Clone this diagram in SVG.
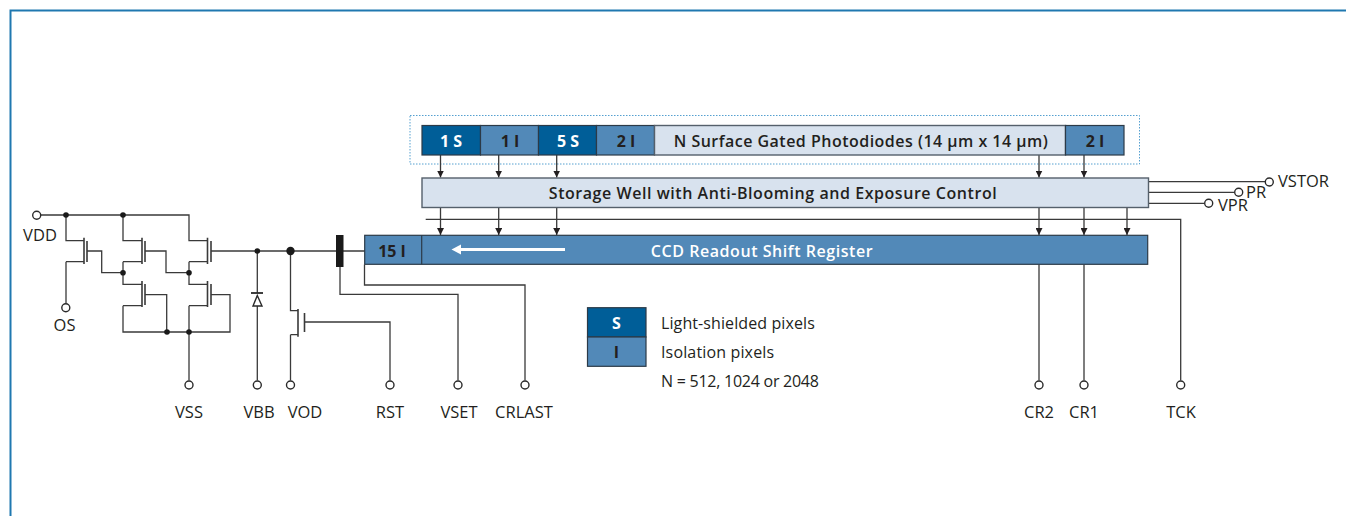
<svg xmlns="http://www.w3.org/2000/svg" width="1346" height="516" viewBox="0 0 1346 516">
<style>
text{font-family:"Open Sans","Noto Sans",sans-serif;fill:#231f20}
.l{font-size:16.5px;font-weight:500;text-anchor:middle}
.ls{font-size:16.500px;font-weight:500}
.t{font-size:16px;font-weight:500}
.c{font-size:16px;font-weight:700;text-anchor:middle}
.m{font-size:16px;font-weight:600;text-anchor:middle;letter-spacing:.55px}
.w{fill:#fff}
.dk{fill:#005e98;stroke:#2c3a47;stroke-width:1.2}
.md{fill:#5289b8;stroke:#2c3a47;stroke-width:1.2}
.lt{fill:#d8e2ee;stroke:#55606b;stroke-width:1.4}
.wire{fill:none;stroke:#3a3a3a;stroke-width:1.3}
.pin{fill:#fff;stroke:#2a2a2a;stroke-width:1.4}
.dot{fill:#1a1a1a}
</style>
<defs>
<marker id="ah" markerUnits="userSpaceOnUse" markerWidth="8" markerHeight="7" refX="7" refY="3.5" orient="auto"><path d="M0 0L7 3.500L0 7Z" fill="#231f20"/></marker>
</defs>
<path id="frame" d="M10.500 516V10.500H1346" fill="none" stroke="#1f78b0" stroke-width="2"/>
<rect id="array-outline" x="410" y="115.500" width="729.500" height="48.500" fill="none" stroke="#55a0d0" stroke-width="1" stroke-dasharray="1.500 1.500"/>

<g id="connectors" class="wire">
<path d="M41 215H189V240.700H207M66 215V240.700H84M66 261.700H84M66 261.700V303.500"/>
<path d="M123 215V240.700H142M123 261.700H142M123 261.700V284.300H142M123 305.700H142M123 305.700V332H230V294.700H211"/>
<path d="M87 251H101.700V272.700H123M145 251H166V272.700H189M145 294.700H166.700V332"/>
<path d="M189 261.700H207M189 261.700V284.300H207M189 305.700H207M189 305.700V380.500"/>
<path d="M211 251H365"/>
<path d="M257.300 251V293M257.300 306V380.500"/>
<path d="M290.500 251V310.700H298M290.500 334.700H298M290.500 334.700V380.500M304.500 322H390V380.500"/>
<path d="M340 267V294.300H458V380.500M364.500 264.500V285H525V380.500"/>
<path d="M425.700 219.300H1180.700V380.500"/>
<path d="M1039 264.500V380.500M1084 264.500V380.500"/>
<path d="M1148.500 181.700H1265M1148.500 192.300H1234.500M1148.500 203.300H1204.500"/>
<path marker-end="url(#ah)" d="M440.500 155V177.500"/>
<path marker-end="url(#ah)" d="M498.700 155V177.500"/>
<path marker-end="url(#ah)" d="M556.700 155V177.500"/>
<path marker-end="url(#ah)" d="M1039 155V177.500"/>
<path marker-end="url(#ah)" d="M1084 155V177.500"/>
<path marker-end="url(#ah)" d="M440.500 207.500V235"/>
<path marker-end="url(#ah)" d="M498.700 207.500V235"/>
<path marker-end="url(#ah)" d="M556.700 207.500V235"/>
<path marker-end="url(#ah)" d="M1039 207.500V235"/>
<path marker-end="url(#ah)" d="M1084 207.500V235"/>
<path marker-end="url(#ah)" d="M1127 207.500V235"/>
</g>

<g id="transistors" fill="none" stroke="#3a3a3a" stroke-width="1.600">
<path d="M84 237.700V264M87 241V262"/>
<path d="M142 237.700V264M145 241V262"/>
<path d="M207.500 237.700V264M211 241V262"/>
<path d="M142 281V307M145 284V305"/>
<path d="M207.500 281V307M211 284V305"/>
<path d="M298 309V336.700M304.500 313V332"/>
</g>
<g id="diode" fill="none" stroke="#2a2a2a" stroke-width="1.400">
<path d="M251 293H263" stroke-width="1.800"/>
<path d="M257.300 295.500L253 306H262Z"/>
</g>
<g id="junctions" class="dot">
<circle cx="66" cy="215" r="2.800"/><circle cx="123" cy="215" r="2.800"/>
<circle cx="123" cy="272.700" r="2.800"/><circle cx="189" cy="272.700" r="2.800"/>
<circle cx="167" cy="332" r="2.800"/><circle cx="189" cy="332" r="2.800"/>
<circle cx="257.300" cy="251" r="2.800"/><circle cx="290.500" cy="251" r="4.200"/>
</g>
<rect id="bar" x="336" y="235" width="7.500" height="32" fill="#1a1a1a"/>

<g id="cell-1s"><rect class="dk" x="422" y="125.500" width="58.500" height="29.500"/><text class="c w" x="451" y="147">1 S</text></g>
<g id="cell-1i"><rect class="md" x="480.500" y="125.500" width="58" height="29.500"/><text class="c" x="510" y="147">1 I</text></g>
<g id="cell-5s"><rect class="dk" x="538.500" y="125.500" width="58" height="29.500"/><text class="c w" x="568" y="147">5 S</text></g>
<g id="cell-2i"><rect class="md" x="596.500" y="125.500" width="58" height="29.500"/><text class="c" x="626" y="147">2 I</text></g>
<g id="photodiodes"><rect class="lt" x="654.500" y="125.500" width="411" height="29.500"/><text class="m" x="861" y="147" style="letter-spacing:.48px">N Surface Gated Photodiodes (14 µm  x 14 µm)</text></g>
<g id="cell-2i-b"><rect class="md" x="1065.500" y="125.500" width="58.500" height="29.500"/><text class="c" x="1095" y="147">2 I</text></g>

<g id="storage"><rect class="lt" x="422" y="178" width="726.500" height="29.500"/><text class="m" x="773" y="199">Storage Well with Anti-Blooming and Exposure Control</text></g>

<g id="register"><rect class="md" x="364.700" y="235.300" width="783" height="29"/><path d="M421.700 235.300V264.300" stroke="#2c3a47" stroke-width="1.200"/>
<text class="c" x="392" y="256.500">15 I</text>
<path d="M565 249.500H458" stroke="#fff" stroke-width="3"/><path d="M451.500 249.500L461 244.500V254.500Z" fill="#fff"/>
<text class="m w" x="762" y="256.500">CCD Readout Shift Register</text></g>

<g id="legend">
<rect class="dk" x="587.500" y="307.700" width="58.500" height="29.300"/><text class="c w" x="616.500" y="329">S</text>
<rect class="md" x="587.500" y="337" width="58.500" height="29.300"/><text class="c" x="616.500" y="358.300">I</text>
<text class="t" x="661" y="329" style="letter-spacing:.1px">Light-shielded pixels</text>
<text class="t" x="661" y="358.300" style="letter-spacing:.15px">Isolation pixels</text>
<text class="t" x="661" y="387.300" style="letter-spacing:-.25px">N = 512, 1024 or 2048</text>
</g>

<g id="pin-vdd"><circle class="pin" cx="36.700" cy="215.300" r="4"/><text class="l" x="40" y="240.700">VDD</text></g>
<g id="pin-os"><circle class="pin" cx="65.800" cy="307.700" r="4"/><text class="l" x="64.500" y="331">OS</text></g>
<g id="pin-vss"><circle class="pin" cx="189" cy="385" r="4"/><text class="l" x="189" y="417.500">VSS</text></g>
<g id="pin-vbb"><circle class="pin" cx="257.300" cy="385" r="4"/><text class="l" x="259" y="417.500">VBB</text></g>
<g id="pin-vod"><circle class="pin" cx="290.500" cy="385" r="4"/><text class="l" x="305" y="417.500">VOD</text></g>
<g id="pin-rst"><circle class="pin" cx="390" cy="385" r="4"/><text class="l" x="390" y="417.500">RST</text></g>
<g id="pin-vset"><circle class="pin" cx="458" cy="385" r="4"/><text class="l" x="459" y="417.500">VSET</text></g>
<g id="pin-crlast"><circle class="pin" cx="525" cy="385" r="4"/><text class="l" x="524" y="417.500">CRLAST</text></g>
<g id="pin-cr2"><circle class="pin" cx="1039" cy="385" r="4"/><text class="l" x="1039" y="417.500">CR2</text></g>
<g id="pin-cr1"><circle class="pin" cx="1084" cy="385" r="4"/><text class="l" x="1084" y="417.500">CR1</text></g>
<g id="pin-tck"><circle class="pin" cx="1180.700" cy="385" r="4"/><text class="l" x="1181" y="417.500">TCK</text></g>
<g id="pin-vstor"><circle class="pin" cx="1269.300" cy="182" r="4"/><text class="ls" x="1278" y="187.300">VSTOR</text></g>
<g id="pin-pr"><circle class="pin" cx="1238.700" cy="192.300" r="4"/><text class="ls" x="1246" y="197.700">PR</text></g>
<g id="pin-vpr"><circle class="pin" cx="1208.700" cy="203.300" r="4"/><text class="ls" x="1218" y="211">VPR</text></g>
</svg>
